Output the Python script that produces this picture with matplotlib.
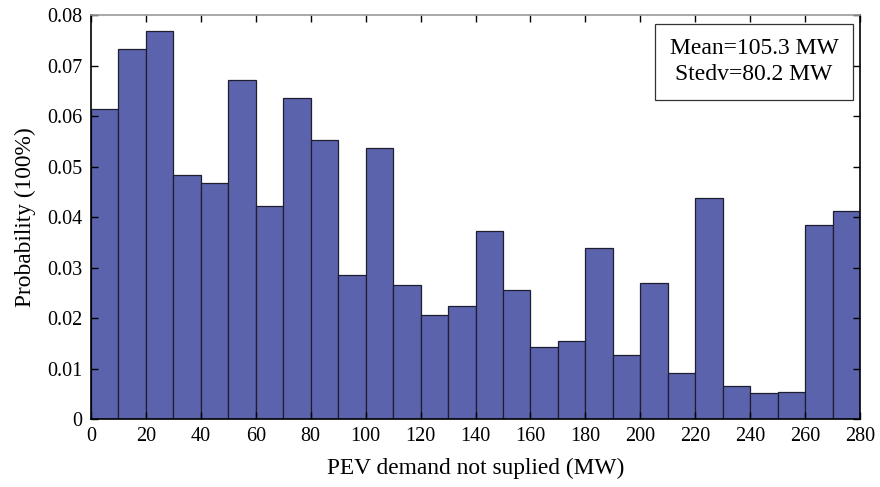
import numpy as np
import matplotlib
matplotlib.use("Agg")
import matplotlib.pyplot as plt

# Bin edges (MW) and probability per bin
bin_edges = np.arange(0, 290, 10)
probs = [0.0614, 0.0733, 0.0768, 0.0483, 0.0467, 0.0671, 0.0422, 0.0636,
         0.0552, 0.0285, 0.0537, 0.0265, 0.0206, 0.0224, 0.0372, 0.0255,
         0.0143, 0.0154, 0.0339, 0.0127, 0.0269, 0.0091, 0.0438, 0.0065,
         0.0051, 0.0053, 0.0384, 0.0412]
x_ticks = list(range(0, 281, 20))
y_ticks = [0, 0.01, 0.02, 0.03, 0.04, 0.05, 0.06, 0.07, 0.08]
y_labels = ["0", "0.01", "0.02", "0.03", "0.04", "0.05", "0.06", "0.07", "0.08"]
stats_text = "Mean=105.3 MW\nStedv=80.2 MW"

plt.rcParams["font.family"] = ["Liberation Serif", "DejaVu Serif"]

fig = plt.figure(figsize=(8.8, 4.87), dpi=100)
ax = fig.add_axes([0.1034, 0.1396, 0.8739, 0.8296])

ax.hist(bin_edges[:-1], bins=bin_edges, weights=probs,
        color="#5b63ad", edgecolor="#1e1e2e", linewidth=0.9)

ax.set_xlim(0, 280)
ax.set_ylim(0, 0.08)
ax.set_xticks(x_ticks)
ax.set_yticks(y_ticks)
ax.set_yticklabels(y_labels)
ax.tick_params(direction="in", top=True, right=True, labelsize=14.5,
               length=5, width=1.0, pad=6)

for side in ["left", "bottom", "right"]:
    ax.spines[side].set_color("black")
    ax.spines[side].set_linewidth(1.2)
ax.spines["top"].set_color("#999999")
ax.spines["top"].set_linewidth(1.2)

ax.set_xlabel("PEV demand not suplied (MW)", fontsize=16.8, labelpad=8)
ax.set_ylabel("Probability (100%)", fontsize=16.8, labelpad=8)

ax.text(0.862, 0.884, stats_text, transform=ax.transAxes, ha="center",
        va="center", multialignment="center", fontsize=17, linespacing=1.3,
        bbox=dict(boxstyle="square,pad=0.62", facecolor="white",
                  edgecolor="#333333", linewidth=0.9))

fig.savefig("out.png", dpi=100)
